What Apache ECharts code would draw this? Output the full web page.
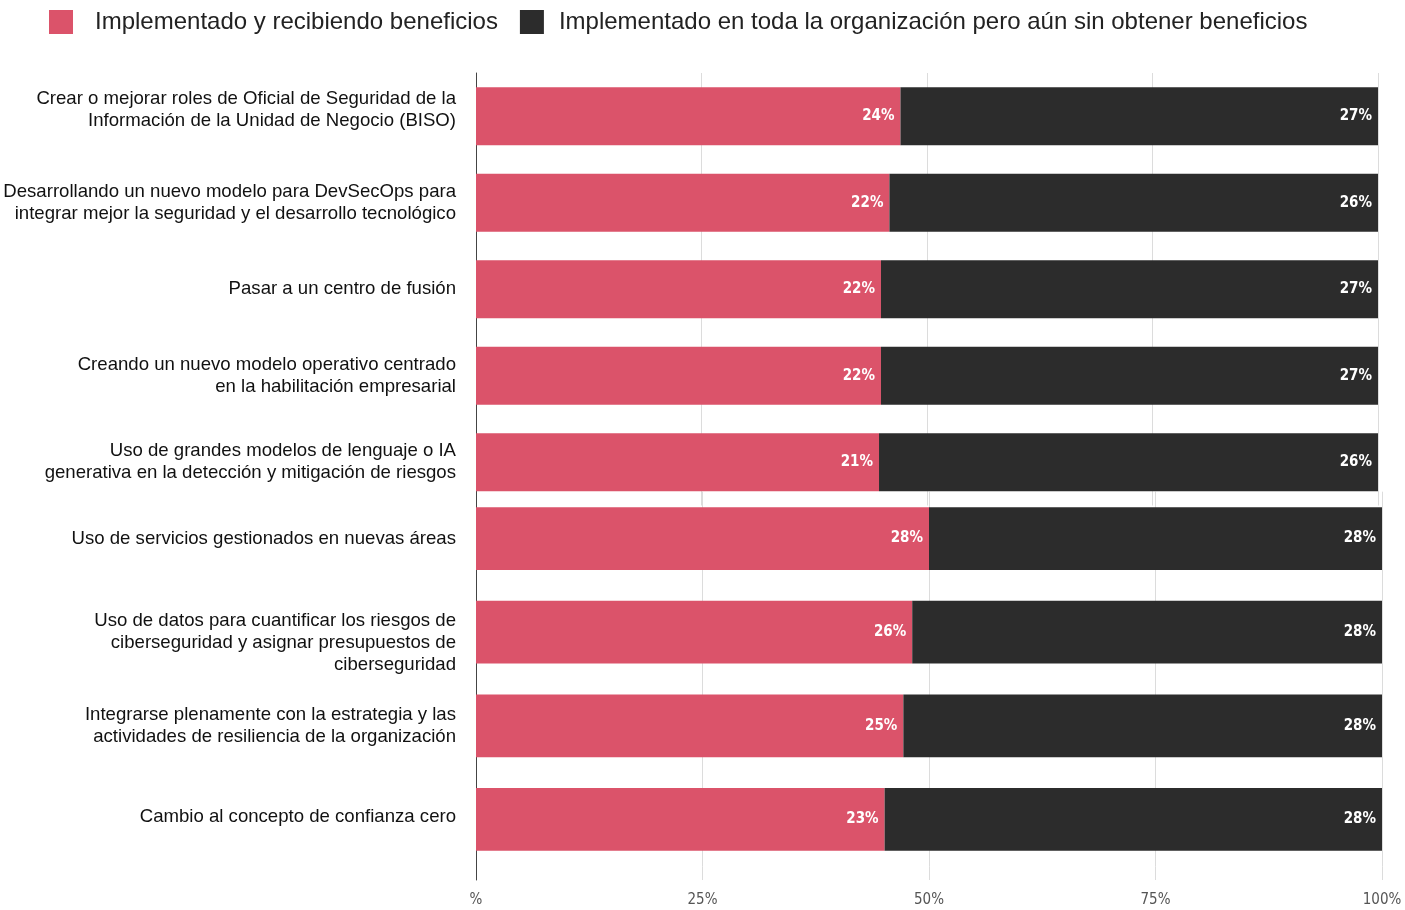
<!DOCTYPE html>
<html>
<head>
<meta charset="utf-8">
<script src="https://cdn.jsdelivr.net/npm/echarts@6/dist/echarts.min.js"></script>
<style>
  html, body { margin: 0; padding: 0; background: #fff; }
  #chart { width: 1405px; height: 910px; }
</style>
</head>
<body>
<div id="chart"></div>
<script>
// Initiatives (top to bottom)
const categories = [
  'Crear o mejorar roles de Oficial de Seguridad de la\nInformación de la Unidad de Negocio (BISO)',
  'Desarrollando un nuevo modelo para DevSecOps para\nintegrar mejor la seguridad y el desarrollo tecnológico',
  'Pasar a un centro de fusión',
  'Creando un nuevo modelo operativo centrado\nen la habilitación empresarial',
  'Uso de grandes modelos de lenguaje o IA\ngenerativa en la detección y mitigación de riesgos',
  'Uso de servicios gestionados en nuevas áreas',
  'Uso de datos para cuantificar los riesgos de\nciberseguridad y asignar presupuestos de\nciberseguridad',
  'Integrarse plenamente con la estrategia y las\nactividades de resiliencia de la organización',
  'Cambio al concepto de confianza cero'
];
// Percent of respondents
const beneficios = [24, 22, 22, 22, 21, 28, 26, 25, 23];
const sinBeneficios = [27, 26, 27, 27, 26, 28, 28, 28, 28];
const seriesNames = [
  'Implementado y recibiendo beneficios',
  'Implementado en toda la organización pero aún sin obtener beneficios'
];
const tickLabels = ['%', '25%', '50%', '75%', '100%'];
// The list is drawn in two panels: first 5 items, then the remaining 4
const splitAt = 5;

const RED = '#DB536A';
const DARK = '#2C2C2C';
const GRID_LINE = '#DCDCDC';

// Vertical nudge (px, + = down) for individual category labels
const labelNudge = [-6, 0, 0, 0, 0, 0, 11, 0, -3];

const share = (a, b) => a / (a + b) * 100;

const chart = echarts.init(document.getElementById('chart'));

const valueLabel = (raw, offset) => ({
  show: true,
  position: 'insideRight',
  distance: 6,
  color: '#fff',
  fontFamily: '"Liberation Sans Narrow", "DejaVu Sans Condensed", "Liberation Sans", sans-serif',
  fontWeight: 'bold',
  fontSize: 15,
  formatter: p => raw[offset + p.dataIndex] + '%'
});

const panels = [
  { from: 0, to: splitAt },
  { from: splitAt, to: categories.length }
];

const grids = [
  { left: 476, right: 27, top: 73, height: 432.5 },
  { left: 476, right: 23, top: 491.7, height: 374.6 },
  { left: 476, right: 23, top: 866.3, height: 13.7 }
];

const xAxes = grids.map((g, i) => ({
  type: 'value',
  gridIndex: i,
  min: 0,
  max: 100,
  interval: 25,
  axisLine: { show: false },
  axisTick: { show: false },
  splitLine: { show: true, lineStyle: { color: GRID_LINE, width: 1 } },
  axisLabel: i === 2 ? {
    show: true,
    margin: 13,
    color: '#555',
    fontSize: 15,
    fontFamily: '"Liberation Sans Narrow", "DejaVu Sans Condensed", "Liberation Sans", sans-serif',
    formatter: v => tickLabels[Math.round(v / 25)]
  } : { show: false }
}));

// Empty spacer lines (rich styles) shift a centred label block up or down
const spacerRich = {};
labelNudge.forEach(d => {
  if (d) spacerRich['sp' + Math.abs(d)] = { lineHeight: 2 * Math.abs(d), fontSize: 1 };
});
const nudgeLabel = (text, idx) => {
  const d = labelNudge[idx] || 0;
  if (!d) return text;
  const sp = '{sp' + Math.abs(d) + '|\u00a0}';
  return d > 0 ? sp + '\n' + text : text + '\n' + sp;
};

const yAxes = [
  ...panels.map((p, i) => ({
    type: 'category',
    gridIndex: i,
    inverse: true,
    data: categories.slice(p.from, p.to),
    axisLine: { show: true, lineStyle: { color: '#444', width: 1 } },
    axisTick: { show: false },
    axisLabel: {
      margin: 20,
      align: 'right',
      color: '#111',
      fontSize: 18.6,
      lineHeight: 22,
      fontFamily: '"Liberation Sans", Arial, sans-serif',
      rich: spacerRich,
      formatter: (v, k) => nudgeLabel(v, p.from + k)
    }
  })),
  {
    type: 'category',
    gridIndex: 2,
    data: [''],
    axisLine: { show: true, lineStyle: { color: '#444', width: 1 } },
    axisTick: { show: false },
    axisLabel: { show: false }
  }
];

const series = [];
panels.forEach((p, i) => {
  const a = beneficios.slice(p.from, p.to);
  const b = sinBeneficios.slice(p.from, p.to);
  series.push({
    name: seriesNames[0],
    type: 'bar',
    stack: 'panel' + i,
    xAxisIndex: i,
    yAxisIndex: i,
    barCategoryGap: '33%',
    itemStyle: { color: RED },
    label: valueLabel(beneficios, p.from),
    data: a.map((v, k) => share(v, b[k]))
  });
  series.push({
    name: seriesNames[1],
    type: 'bar',
    stack: 'panel' + i,
    xAxisIndex: i,
    yAxisIndex: i,
    barCategoryGap: '33%',
    itemStyle: { color: DARK },
    label: valueLabel(sinBeneficios, p.from),
    data: b.map((v, k) => share(v, a[k]))
  });
});

chart.setOption({
  animation: false,
  backgroundColor: '#fff',
  legend: {
    left: 44,
    top: 5,
    icon: 'rect',
    itemWidth: 24,
    itemHeight: 24,
    itemGap: 22,
    data: [
      { name: seriesNames[0], textStyle: { padding: [0, 0, 0, 17] } },
      { name: seriesNames[1], textStyle: { padding: [0, 0, 0, 10] } }
    ],
    textStyle: {
      color: '#222',
      fontSize: 24,
      fontFamily: '"Liberation Sans", Arial, sans-serif'
    }
  },
  grid: grids,
  xAxis: xAxes,
  yAxis: yAxes,
  series: series
});
</script>
</body>
</html>
